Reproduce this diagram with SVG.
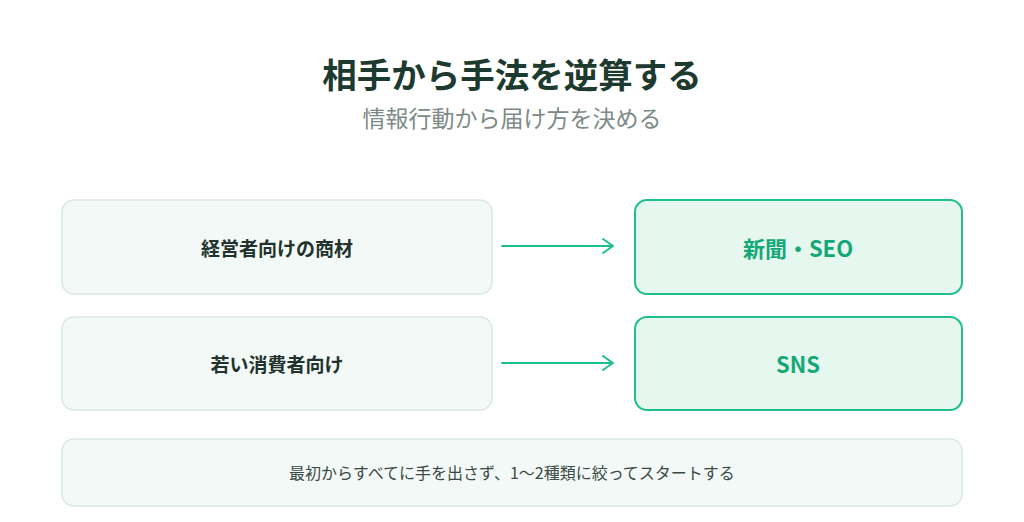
<svg xmlns="http://www.w3.org/2000/svg" width="1024" height="522" viewBox="0 0 1024 522">
<style>
text{font-family:"Noto Sans CJK JP","Noto Sans",sans-serif;text-anchor:middle;dominant-baseline:central}
.title{font-size:34.5px;font-weight:700;fill:#1d3a2f}
.sub{font-size:23px;fill:#7d8a86}
.src rect{fill:#f3f9f7;stroke:#d9e8e3;stroke-width:1.5}
.src text{font-size:19px;font-weight:700;fill:#22332d}
.dst rect{fill:#e6f7f0;stroke:#1dbf8a;stroke-width:2}
.dst text{font-size:22px;font-weight:700;fill:#14a877}
.note rect{fill:#f3f9f7;stroke:#d9e8e3;stroke-width:1.5}
.note text{font-size:16px;fill:#3a4a45}
.conn path{fill:none;stroke:#1dbf8a;stroke-width:2;stroke-linecap:round;stroke-linejoin:round}
</style>
<rect width="1024" height="522" fill="#ffffff"/>
<text class="title" x="512" y="73">相手から手法を逆算する</text>
<text class="sub" x="512" y="117">情報行動から届け方を決める</text>
<g id="src1" class="src"><rect x="62" y="200" width="430" height="94" rx="12"/><text x="277" y="247">経営者向けの商材</text></g>
<g id="dst1" class="dst"><rect x="635" y="200" width="327" height="94" rx="12"/><text x="798" y="247">新聞・SEO</text></g>
<g id="src2" class="src"><rect x="62" y="317" width="430" height="93" rx="12"/><text x="277" y="363">若い消費者向け</text></g>
<g id="dst2" class="dst"><rect x="635" y="317" width="327" height="93" rx="12"/><text x="798" y="363">SNS</text></g>
<g id="connectors" class="conn">
<path d="M502 246 H613 M603 239 L613 246 L603 253"/>
<path d="M502 363 H613 M603 356 L613 363 L603 370"/>
</g>
<g id="note" class="note"><rect x="62" y="439" width="900" height="67" rx="12"/><text x="512" y="472">最初からすべてに手を出さず、1〜2種類に絞ってスタートする</text></g>
</svg>
